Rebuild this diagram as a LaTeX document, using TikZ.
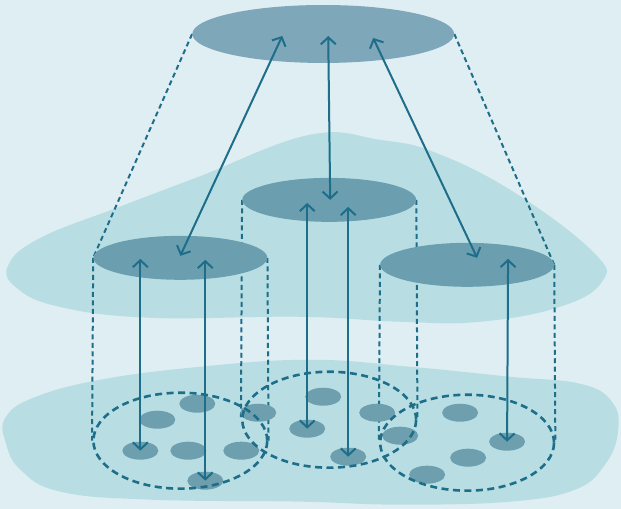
\documentclass[tikz,border=0pt]{standalone}
\usepackage{tikz}
\usetikzlibrary{shapes.geometric, arrows.meta, backgrounds}

\definecolor{bgblue}{HTML}{DFEEF3}
\definecolor{blobteal}{HTML}{B8DEE3}
\definecolor{topblue}{HTML}{7EA7B9}
\definecolor{discblue}{HTML}{6B9FB0}
\definecolor{dotblue}{HTML}{6E9FAE}
\definecolor{linecol}{HTML}{1E6E8A}

\tikzset{
  disc/.style={ellipse, fill=discblue, inner sep=0pt, minimum width=174pt, minimum height=44pt},
  pool/.style={ellipse, draw=linecol, line width=2.6pt, dash pattern=on 7pt off 4.5pt, inner sep=0pt, minimum width=174pt, minimum height=96pt},
  member/.style={ellipse, fill=dotblue, inner sep=0pt, minimum width=36pt, minimum height=18pt},
  link/.style={linecol, line width=2pt, dash pattern=on 5pt off 3.5pt},
  sync/.style={linecol, line width=2pt, {Straight Barb[length=7pt,width=15pt]}-{Straight Barb[length=7pt,width=15pt]}},
}

\begin{document}
\begin{tikzpicture}[x=1pt, y=-1pt]
    % backdrop and the two clouds
    \begin{pgfonlayer}{background}
    \fill[bgblue] (0,0) rectangle (621,509);
    \fill[blobteal] plot[smooth cycle, tension=0.7] coordinates {
        (8,265) (40,238) (119,207) (198,177) (309,135) (380,140) (436,153)
        (515,193) (594,253) (602,282) (560,307) (480,322) (400,322)
        (300,317) (150,318) (59,307) (16,288)};
    \fill[blobteal] plot[smooth cycle, tension=0.7] coordinates {
        (5,418) (33,398) (100,380) (200,367) (310,360) (410,367) (510,377)
        (580,384) (612,402) (618,432) (605,465) (575,490) (510,502)
        (400,505) (300,502) (150,500) (60,492) (20,470) (5,442)};
    \end{pgfonlayer}

    % discs
    \node[disc, fill=topblue, minimum width=262pt, minimum height=58pt] (top) at (323,34) {};
    \node[disc] (left) at (180,258) {};
    \node[disc] (mid) at (329,200) {};
    \node[disc] (right) at (467,265) {};

    % members
    \node[member] (l1) at (197,404) {};
    \node[member] (l2) at (157,420) {};
    \node[member] (l3) at (140,451) {};
    \node[member] (l4) at (188,451) {};
    \node[member] (l5) at (241,451) {};
    \node[member] (l6) at (205,481) {};
    \node[member] (m1) at (258,413) {};
    \node[member] (m2) at (323,397) {};
    \node[member] (m3) at (377,413) {};
    \node[member] (m4) at (307,429) {};
    \node[member] (m5) at (400,436) {};
    \node[member] (m6) at (348,457) {};
    \node[member] (r1) at (460,413) {};
    \node[member] (r2) at (507,442) {};
    \node[member] (r3) at (468,458) {};
    \node[member] (r4) at (427,475) {};

    % pools
    \node[pool] (lpool) at (180,441) {};
    \node[pool] (mpool) at (329,420) {};
    \node[pool] (rpool) at (467,443) {};

    % outlines behind the discs
    \begin{pgfonlayer}{background}
    \draw[link] (top.west) -- (left.west);
    \draw[link] (top.east) -- (right.east);
    \draw[link] (left.west) -- (lpool.west);
    \draw[link] (left.east) -- (lpool.east);
    \draw[link] (mid.west) -- (mpool.west);
    \draw[link] (mid.east) -- (mpool.east);
    \draw[link] (right.west) -- (rpool.west);
    \draw[link] (right.east) -- (rpool.east);
    \end{pgfonlayer}

    % arrows
    \coordinate (t1) at (282,36);
    \coordinate (t2) at (328,36);
    \coordinate (t3) at (373,38);
    \coordinate (lt) at (180,256);
    \coordinate (mt) at (330,200);
    \coordinate (rt) at (477,258);
    \coordinate (la) at (140,259);
    \coordinate (lb) at (205,260);
    \coordinate (ma) at (307,203);
    \coordinate (mb) at (348,207);
    \coordinate (ra) at (508,259);

    \draw[sync] (t1) -- (lt);
    \draw[sync] (t2) -- (mt);
    \draw[sync] (t3) -- (rt);
    \draw[sync] (la) -- (l3.center);
    \draw[sync] (lb) -- (l6.center);
    \draw[sync] (ma) -- (m4.center);
    \draw[sync] (mb) -- (m6.center);
    \draw[sync] (ra) -- (r2.center);
\end{tikzpicture}
\end{document}
